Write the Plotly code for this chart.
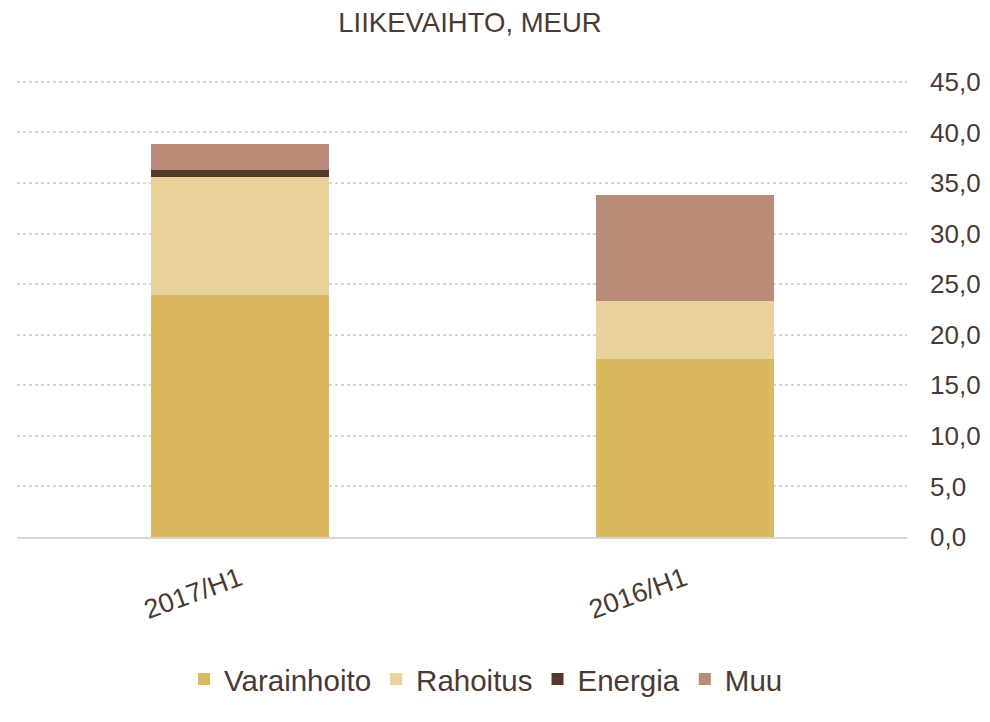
import plotly.graph_objects as go

periods = ["2017/H1", "2016/H1"]
varainhoito = [23.9, 17.6]
rahoitus = [11.7, 5.7]
energia = [0.7, 0.0]
muu = [2.6, 10.5]

series = [
    ("Varainhoito", varainhoito, "#DBB85F"),
    ("Rahoitus", rahoitus, "#E8D39D"),
    ("Energia", energia, "#553829"),
    ("Muu", muu, "#B98B78"),
]

text_color = "#4A3A33"

fig = go.Figure()
for name, vals, color in series:
    fig.add_trace(go.Bar(x=periods, y=vals, name=name, marker_color=color,
                         marker_line_width=0))

# the page body keeps an 8px margin, so size the figure to fit inside the window
fig.update_layout(
    barmode="stack",
    bargap=0.6,
    width=974, height=706,
    margin=dict(l=9, r=75, t=71, b=159),
    plot_bgcolor="white", paper_bgcolor="white",
    font=dict(family="Liberation Sans, Arial", size=26, color=text_color),
    title=dict(text="LIIKEVAIHTO, MEUR", x=0.4743, xanchor="center",
               y=1 - 14 / 706, yanchor="middle", yref="container",
               font=dict(size=27.5, color=text_color)),
    legend=dict(orientation="h", x=0.527, xanchor="center", y=-0.311,
                yanchor="middle", font=dict(size=29.5), itemwidth=30,
                traceorder="normal"),
    showlegend=True,
    separators=",.",
)
fig.update_yaxes(side="right", range=[0, 45.285], tickvals=[0, 5, 10, 15, 20, 25, 30, 35, 40, 45],
                 tickformat=".1f", showgrid=True, gridcolor="#D6D6D6",
                 griddash="dot", gridwidth=1.5, zeroline=False, showline=False,
                 ticks="", ticklabelstandoff=22, automargin=False)
fig.update_xaxes(tickangle=-20, showline=True, linecolor="#D6D6D6", linewidth=1.5,
                 ticks="", ticklabelstandoff=14, automargin=False,
                 tickfont=dict(size=27))

fig.write_html("out.html")
